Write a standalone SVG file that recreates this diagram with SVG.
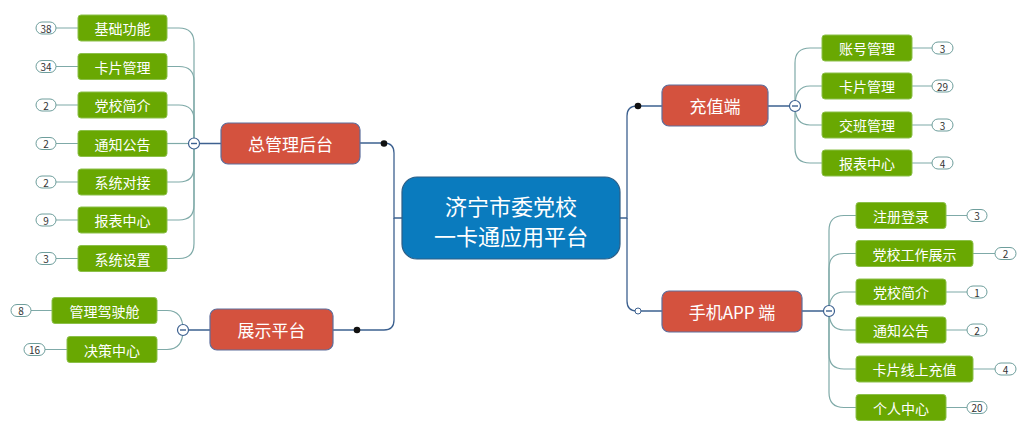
<svg xmlns="http://www.w3.org/2000/svg" width="1027" height="439" viewBox="0 0 1027 439">
<style>
text{font-family:"Noto Sans CJK SC","Liberation Sans",sans-serif;text-anchor:middle;dominant-baseline:central}
.g rect{fill:#69A802;stroke:#8CC04A;stroke-width:1}
.g text{fill:#fff;font-size:14px}
.r rect{fill:#D4523E;stroke:#5E6E9C;stroke-width:1.2}
.r text{fill:#fff;font-size:17px}
.c rect{fill:#0A7BBE;stroke:#2D5E86;stroke-width:1.2}
.c text{fill:#fff;font-size:22px}
.b rect{fill:#fff;stroke:#6E9E9C;stroke-width:1}
.b text{fill:#333;font-size:10px}
.lk{fill:none;stroke:#7FAAA8;stroke-width:1.2}
.mk{fill:none;stroke:#3D6190;stroke-width:1.3}
.col circle{fill:#fff;stroke:#3D6190;stroke-width:1.2}
.col line{stroke:#3D6190;stroke-width:1.4}
</style>
<rect width="1027" height="439" fill="#fff"/>
<g id="connectors">
<!-- main -->
<path class="mk" d="M402,218 H394 V153 Q394,143 384,143 H360"/>
<path class="mk" d="M394,218 V320 Q394,330 384,330 H333"/>
<path class="mk" d="M620,218 H627 V116 Q627,106 637,106 H662"/>
<path class="mk" d="M627,218 V301 Q627,311 637,311 H662"/>
<path class="mk" d="M360,143.5 H221 M210,330 H188 M768,106 H789 M802,311 H823 M221,143.5 H199"/>
<!-- left top children -->
<path class="lk" d="M194,143.5 V43 Q194,28 179,28 H167"/>
<path class="lk" d="M194,143.5 V81 Q194,66.5 179,66.5 H167"/>
<path class="lk" d="M194,143.5 V120 Q194,105 179,105 H167"/>
<path class="lk" d="M194,143.5 H167"/>
<path class="lk" d="M194,143.5 V167 Q194,182 179,182 H167"/>
<path class="lk" d="M194,143.5 V205 Q194,220 179,220 H167"/>
<path class="lk" d="M194,143.5 V243.5 Q194,258.5 179,258.5 H167"/>
<!-- left bottom children -->
<path class="lk" d="M183,330 Q183,310.5 167,310.5 H157"/>
<path class="lk" d="M183,330 Q183,349.5 167,349.5 H157"/>
<!-- right top children -->
<path class="lk" d="M795,106 V63 Q795,48 810,48 H822"/>
<path class="lk" d="M795,106 Q795,86 810,86 H822"/>
<path class="lk" d="M795,106 Q795,125 810,125 H822"/>
<path class="lk" d="M795,106 V148 Q795,163 810,163 H822"/>
<!-- right bottom children -->
<path class="lk" d="M829,311 V230.5 Q829,215.5 844,215.5 H856"/>
<path class="lk" d="M829,311 V268.5 Q829,253.5 844,253.5 H856"/>
<path class="lk" d="M829,311 Q829,292 844,292 H856"/>
<path class="lk" d="M829,311 Q829,330 844,330 H856"/>
<path class="lk" d="M829,311 V354 Q829,369 844,369 H856"/>
<path class="lk" d="M829,311 V392.5 Q829,407.5 844,407.5 H856"/>
<!-- badge links -->
<path class="lk" d="M56,28 H78 M56,66.5 H78 M56,105 H78 M56,143.5 H78 M56,182 H78 M56,220 H78 M56,258.5 H78 M31,310.5 H52 M45,349.5 H67 M912,48 H932 M912,86 H932 M912,125 H932 M912,163 H932 M946,215.5 H967 M973,253.5 H995 M946,292 H967 M946,330 H967 M973,369 H995 M946,407.5 H967"/>
<!-- dots -->
<circle cx="384" cy="143.5" r="3.3" fill="#111"/>
<circle cx="357" cy="330" r="3.3" fill="#111"/>
<circle cx="638" cy="106" r="3.3" fill="#111"/>
<circle cx="638" cy="311" r="3" fill="#fff" stroke="#3D6190" stroke-width="1"/>
<!-- collapse -->
<g class="col"><circle cx="194" cy="143.5" r="5.5"/><line x1="191" y1="143.5" x2="197" y2="143.5"/></g>
<g class="col"><circle cx="183" cy="330" r="5.5"/><line x1="180" y1="330" x2="186" y2="330"/></g>
<g class="col"><circle cx="795" cy="106" r="5.5"/><line x1="792" y1="106" x2="798" y2="106"/></g>
<g class="col"><circle cx="829" cy="311" r="5.5"/><line x1="826" y1="311" x2="832" y2="311"/></g>
</g>
<g id="center" class="c"><rect x="402" y="177" width="218" height="82" rx="15"/><text x="511" y="205">济宁市委党校</text><text x="511" y="235">一卡通应用平台</text></g>
<g id="n-zgl" class="r"><rect x="221" y="123" width="139" height="41" rx="7"/><text x="290.5" y="143.5">总管理后台</text></g>
<g id="n-zs" class="r"><rect x="210" y="309" width="123" height="41" rx="7"/><text x="271.5" y="329.5">展示平台</text></g>
<g id="n-cz" class="r"><rect x="662" y="85" width="106" height="41" rx="7"/><text x="715" y="105.5">充值端</text></g>
<g id="n-app" class="r"><rect x="662" y="291" width="140" height="41" rx="7"/><text x="732" y="311.5">手机APP 端</text></g>
<g id="l1" class="g"><rect x="78" y="15" width="89" height="26" rx="3"/><text x="122.5" y="28">基础功能</text></g>
<g id="l2" class="g"><rect x="78" y="53.5" width="89" height="26" rx="3"/><text x="122.5" y="66.5">卡片管理</text></g>
<g id="l3" class="g"><rect x="78" y="92" width="89" height="26" rx="3"/><text x="122.5" y="105">党校简介</text></g>
<g id="l4" class="g"><rect x="78" y="130.5" width="89" height="26" rx="3"/><text x="122.5" y="143.5">通知公告</text></g>
<g id="l5" class="g"><rect x="78" y="169" width="89" height="26" rx="3"/><text x="122.5" y="182">系统对接</text></g>
<g id="l6" class="g"><rect x="78" y="207" width="89" height="26" rx="3"/><text x="122.5" y="220">报表中心</text></g>
<g id="l7" class="g"><rect x="78" y="245.5" width="89" height="26" rx="3"/><text x="122.5" y="258.5">系统设置</text></g>
<g id="l8" class="g"><rect x="52" y="297.5" width="105" height="26" rx="3"/><text x="104.5" y="310.5">管理驾驶舱</text></g>
<g id="l9" class="g"><rect x="67" y="336.5" width="90" height="26" rx="3"/><text x="112" y="349.5">决策中心</text></g>
<g id="r1" class="g"><rect x="822" y="35" width="90" height="26" rx="3"/><text x="867" y="48">账号管理</text></g>
<g id="r2" class="g"><rect x="822" y="73" width="90" height="26" rx="3"/><text x="867" y="86">卡片管理</text></g>
<g id="r3" class="g"><rect x="822" y="112" width="90" height="26" rx="3"/><text x="867" y="125">交班管理</text></g>
<g id="r4" class="g"><rect x="822" y="150" width="90" height="26" rx="3"/><text x="867" y="163">报表中心</text></g>
<g id="r5" class="g"><rect x="856" y="202.5" width="90" height="26" rx="3"/><text x="901" y="215.5">注册登录</text></g>
<g id="r6" class="g"><rect x="856" y="240.5" width="117" height="26" rx="3"/><text x="914.5" y="253.5">党校工作展示</text></g>
<g id="r7" class="g"><rect x="856" y="279" width="90" height="26" rx="3"/><text x="901" y="292">党校简介</text></g>
<g id="r8" class="g"><rect x="856" y="317" width="90" height="26" rx="3"/><text x="901" y="330">通知公告</text></g>
<g id="r9" class="g"><rect x="856" y="356" width="117" height="26" rx="3"/><text x="914.5" y="369">卡片线上充值</text></g>
<g id="r10" class="g"><rect x="856" y="394.5" width="90" height="26" rx="3"/><text x="901" y="407.5">个人中心</text></g>
<g id="badges" class="b">
<rect x="36" y="22" width="20" height="12" rx="6"/><text x="46" y="28">38</text>
<rect x="36" y="60.5" width="20" height="12" rx="6"/><text x="46" y="66.5">34</text>
<rect x="36" y="99" width="20" height="12" rx="6"/><text x="46" y="105">2</text>
<rect x="36" y="137.5" width="20" height="12" rx="6"/><text x="46" y="143.5">2</text>
<rect x="36" y="176" width="20" height="12" rx="6"/><text x="46" y="182">2</text>
<rect x="36" y="214" width="20" height="12" rx="6"/><text x="46" y="220">9</text>
<rect x="36" y="252.5" width="20" height="12" rx="6"/><text x="46" y="258.5">3</text>
<rect x="11" y="304.5" width="20" height="12" rx="6"/><text x="21" y="310.5">8</text>
<rect x="24" y="343.5" width="21" height="12" rx="6"/><text x="34.5" y="349.5">16</text>
<rect x="932" y="42" width="21" height="12" rx="6"/><text x="942.5" y="48">3</text>
<rect x="932" y="80" width="21" height="12" rx="6"/><text x="942.5" y="86">29</text>
<rect x="932" y="119" width="21" height="12" rx="6"/><text x="942.5" y="125">3</text>
<rect x="932" y="157" width="21" height="12" rx="6"/><text x="942.5" y="163">4</text>
<rect x="967" y="209.5" width="20" height="12" rx="6"/><text x="977" y="215.5">3</text>
<rect x="995" y="247.5" width="21" height="12" rx="6"/><text x="1005.5" y="253.5">2</text>
<rect x="967" y="286" width="20" height="12" rx="6"/><text x="977" y="292">1</text>
<rect x="967" y="324" width="20" height="12" rx="6"/><text x="977" y="330">2</text>
<rect x="995" y="363" width="21" height="12" rx="6"/><text x="1005.5" y="369">4</text>
<rect x="967" y="401.5" width="20" height="12" rx="6"/><text x="977" y="407.5">20</text>
</g>
</svg>
